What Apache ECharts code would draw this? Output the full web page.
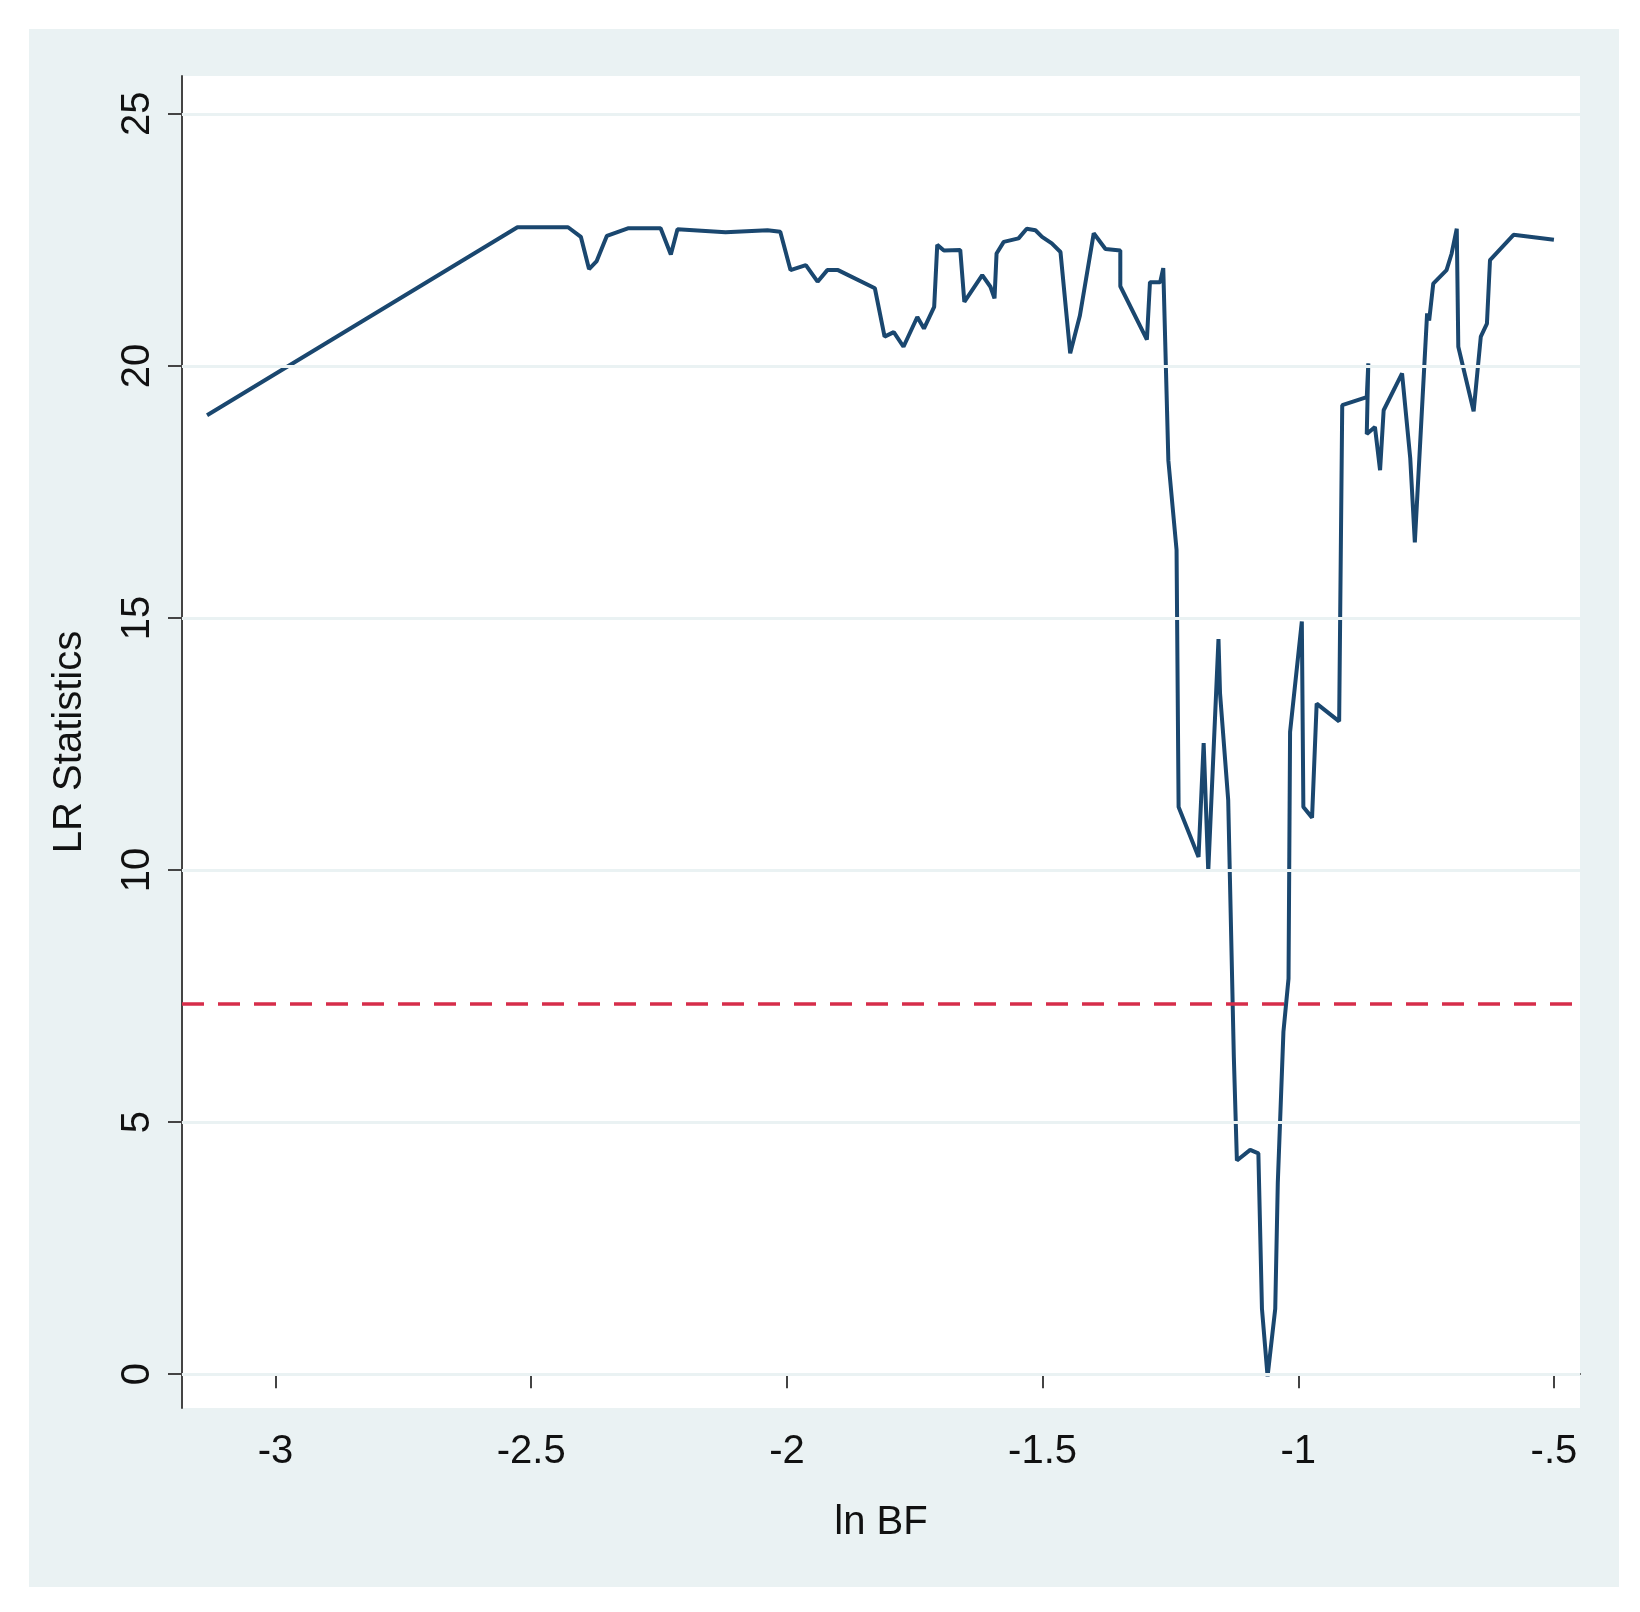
<!DOCTYPE html>
<html><head><meta charset="utf-8">
<script src="https://cdn.jsdelivr.net/npm/echarts@6/dist/echarts.min.js"></script>
<style>html,body{margin:0;background:#fff}#c{width:1640px;height:1612px}</style>
</head><body><div id="c"></div>
<script>
const xTicks=[-3,-2.5,-2,-1.5,-1,-0.5];
const xTickLabels=['-3','-2.5','-2','-1.5','-1','-.5'];
const yTicks=[0,5,10,15,20,25];
const threshold=7.35;
const lnBF=[-3.134,-2.527,-2.428,-2.403,-2.387,-2.372,-2.352,-2.311,-2.247,-2.227,-2.214,-2.120,-2.038,-2.013,-1.993,-1.963,-1.940,-1.921,-1.900,-1.828,-1.809,-1.791,-1.772,-1.745,-1.732,-1.712,-1.706,-1.693,-1.661,-1.653,-1.618,-1.602,-1.594,-1.590,-1.576,-1.547,-1.531,-1.514,-1.501,-1.482,-1.465,-1.446,-1.427,-1.400,-1.377,-1.348,-1.348,-1.296,-1.290,-1.270,-1.264,-1.254,-1.238,-1.234,-1.195,-1.185,-1.176,-1.156,-1.153,-1.137,-1.126,-1.120,-1.094,-1.078,-1.071,-1.060,-1.045,-1.040,-1.029,-1.019,-1.016,-0.993,-0.990,-0.973,-0.964,-0.920,-0.914,-0.866,-0.863,-0.866,-0.850,-0.840,-0.833,-0.797,-0.781,-0.772,-0.748,-0.744,-0.736,-0.710,-0.700,-0.690,-0.687,-0.657,-0.643,-0.631,-0.625,-0.579,-0.500];
const lrStat=[19.02,22.75,22.75,22.56,21.92,22.08,22.58,22.73,22.73,22.21,22.71,22.65,22.69,22.66,21.9,22.0,21.67,21.9,21.9,21.54,20.58,20.67,20.38,20.97,20.74,21.17,22.4,22.29,22.3,21.27,21.8,21.57,21.34,22.23,22.46,22.53,22.72,22.69,22.56,22.43,22.26,20.25,21.0,22.63,22.32,22.29,21.58,20.52,21.66,21.66,21.94,18.12,16.35,11.25,10.26,12.52,9.98,14.58,13.51,11.39,6.30,4.24,4.45,4.38,1.3,-0.04,1.3,3.8,6.79,7.85,12.74,14.93,11.25,11.04,13.3,12.95,19.22,19.38,20.05,18.65,18.79,17.93,19.12,19.85,18.17,16.5,21.04,20.9,21.63,21.9,22.23,22.72,20.38,19.1,20.58,20.84,22.1,22.6,22.5];
const chart=echarts.init(document.getElementById('c'));
const font='Arial, Liberation Sans, sans-serif';
chart.setOption({
  backgroundColor:'#fff',
  graphic:[{type:'rect',z:-10,shape:{x:29,y:29,width:1590,height:1558},style:{fill:'#eaf2f3'}},
           {type:'rect',z:-9,shape:{x:182,y:76,width:1398,height:1332},style:{fill:'#ffffff'}}],
  grid:{left:182,top:76,width:1398,height:1332},
  xAxis:{type:'value',min:-3.183,max:-0.449,name:'ln BF',nameLocation:'middle',nameGap:95,
    nameTextStyle:{fontSize:40,color:'#111',fontFamily:font},
    axisLine:{lineStyle:{color:'#444',width:2}},
    axisTick:{customValues:xTicks,length:14,lineStyle:{color:'#444',width:2}},
    axisLabel:{customValues:xTicks,formatter:v=>xTickLabels[xTicks.findIndex(t=>Math.abs(t-v)<1e-6)],fontSize:40,color:'#111',margin:24,fontFamily:font},
    splitLine:{show:false}},
  yAxis:{type:'value',min:-0.67,max:25.75,name:'LR Statistics',nameLocation:'middle',nameGap:92,
    nameTextStyle:{fontSize:40,color:'#111',fontFamily:font},
    axisLine:{lineStyle:{color:'#444',width:2}},
    axisTick:{customValues:yTicks,length:14,lineStyle:{color:'#444',width:2}},
    axisLabel:{customValues:yTicks,rotate:90,fontSize:40,color:'#111',margin:24,fontFamily:font},
    splitLine:{show:false}},
  series:[{type:'line',data:lnBF.map((x,i)=>[x,lrStat[i]]),showSymbol:false,
    lineStyle:{color:'#1a476f',width:4},
    markLine:{silent:true,symbol:'none',label:{show:false},
      data:[...yTicks.map(v=>({yAxis:v,lineStyle:{color:'#eaf2f3',width:3,type:'solid'}})),
            {yAxis:threshold,lineStyle:{color:'#d62d4a',width:3.5,type:[22,14]}}]}}]
});
</script></body></html>
